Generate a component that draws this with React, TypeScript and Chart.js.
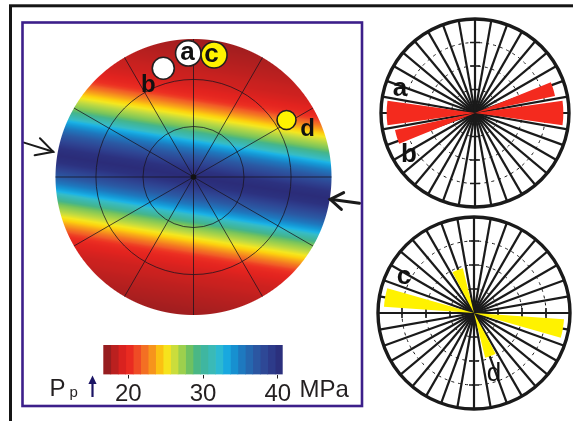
import React, { useEffect, useRef } from 'react';
import { Chart, registerables } from 'chart.js';

Chart.register(...registerables);

const FONT = "'Liberation Sans', Arial, Helvetica, sans-serif";

// ---------- Left panel: pore-pressure field on an equal-area net ----------
const bandTrend = 99; // trend of the high-Pp band (deg clockwise from N)
// Pp across the band, distance from the band axis in % of net radius
const profileDistance = [0, 5, 10, 15, 20, 25, 30, 35, 40, 45, 50, 55, 60, 65, 70, 80, 90, 100, 120, 145];
const profilePressure = [40.5, 40.0, 38.5, 37.0, 35.2, 33.0, 30.5, 28.0, 26.5, 24.8, 23.0, 21.0, 19.8, 19.2, 18.7, 18.2, 17.8, 17.4, 17.2, 17.0];

const netRings = [0.366, 0.707];
const netDiameters = [0, 30, 60, 90, 120, 150];

// fault plane poles
const poleNames = ['a', 'b', 'c', 'd'];
const poleX = [-0.038, -0.219, 0.149, 0.674];
const poleY = [0.896, 0.788, 0.884, 0.413];
const poleTextX = [-0.043, -0.328, 0.130, 0.826];
const poleTextY = [0.899, 0.667, 0.884, 0.346];
const poleRadius = [12.7, 11, 13, 9.5];
const poleColor = ['#ffffff', '#ffffff', '#fff200', '#fff200'];
const poleTextInside = [true, false, true, false];

// max stress arrows (tail -> tip) in net units
const arrowTailX = [-1.228, 1.203];
const arrowTailY = [0.249, -0.191];
const arrowTipX = [-1.016, 0.991];
const arrowTipY = [0.183, -0.162];

// colour map (MPa)
const cmapPressure = [16.7, 17.5, 18.5, 19.5, 20.5, 21.5, 22.5, 23.5, 24.5, 25.3, 26.2, 27.2, 28.2, 29.3, 30.5, 31.8, 32.7, 33.8, 35.2, 36.8, 38.3, 39.5, 40.7];
const cmapColors = ['#8a1c1e', '#a21e1f', '#c9211f', '#e2231f', '#ec2f22', '#f15a27', '#f47a21', '#f8a21a', '#fdd10e', '#f4e720', '#c8dc3e', '#9acf4e', '#6cc062', '#45b58b', '#3db7a8', '#36bcc6', '#1bb3e6', '#1598d6', '#1e78be', '#2a5ba5', '#2e4694', '#2d3786', '#2a2a76'];

const colorbarEdges = [16.65, 17.65, 18.65, 19.65, 20.65, 21.65, 22.65, 23.65, 24.65, 25.65, 26.65, 27.65, 28.65, 29.65, 30.65, 31.65, 32.65, 33.65, 34.65, 35.65, 36.65, 37.65, 38.65, 39.65, 40.65];
const colorbarTicks = [20, 30, 40];

// ---------- Rose diagrams ----------
const roseSectors = ['0', '10', '20', '30', '40', '50', '60', '70', '80', '90', '100', '110', '120', '130', '140', '150', '160', '170', '180', '190', '200', '210', '220', '230', '240', '250', '260', '270', '280', '290', '300', '310', '320', '330', '340', '350'];
const roseRings = [25, 50, 75];

const roseABEdges = [0, 68, 78, 82, 98, 248, 258, 262, 278, 360];
const roseABLength = [0, 87, 0, 94, 0, 87, 0, 94, 0];
const roseABText = ['a', 'b'];
const roseABTextAz = [288, 238];
const roseABTextR = [84, 83];

const roseCDEdges = [0, 94, 106, 152, 166, 274, 286, 332, 346, 360];
const roseCDLength = [0, 94, 0, 48, 0, 94, 0, 48, 0];
const roseCDText = ['c', 'd'];
const roseCDTextAz = [297, 162];
const roseCDTextR = [82, 67];

function hexToRgb(h: string) {
  const n = parseInt(h.slice(1), 16);
  return [(n >> 16) & 255, (n >> 8) & 255, n & 255];
}
const cmapRgb = cmapColors.map(hexToRgb);

function pressureRgb(p: number) {
  const n = cmapPressure.length;
  if (p <= cmapPressure[0]) return cmapRgb[0];
  if (p >= cmapPressure[n - 1]) return cmapRgb[n - 1];
  let k = 0;
  while (k < n - 2 && p > cmapPressure[k + 1]) k++;
  const t = (p - cmapPressure[k]) / (cmapPressure[k + 1] - cmapPressure[k]);
  const a = cmapRgb[k], b = cmapRgb[k + 1];
  return [a[0] + (b[0] - a[0]) * t, a[1] + (b[1] - a[1]) * t, a[2] + (b[2] - a[2]) * t];
}
function rgbStr(c: number[]) {
  return `rgb(${Math.round(c[0])},${Math.round(c[1])},${Math.round(c[2])})`;
}
function interp(xs: number[], ys: number[], x: number) {
  if (x <= xs[0]) return ys[0];
  for (let i = 0; i < xs.length - 1; i++) {
    if (x <= xs[i + 1]) {
      const t = (x - xs[i]) / (xs[i + 1] - xs[i]);
      return ys[i] + (ys[i + 1] - ys[i]) * t;
    }
  }
  return ys[ys.length - 1];
}

const fieldPlugin = {
  id: 'ppField',
  beforeDatasetsDraw(chart: any) {
    const { ctx, chartArea } = chart;
    const xs = chart.scales.x, ys = chart.scales.y;
    const x0 = Math.floor(chartArea.left) - 1, y0 = Math.floor(chartArea.top) - 1;
    const w = Math.ceil(chartArea.right) + 1 - x0, h = Math.ceil(chartArea.bottom) + 1 - y0;
    const off = document.createElement('canvas');
    off.width = w; off.height = h;
    const octx = off.getContext('2d')!;
    const img = octx.createImageData(w, h);
    const rPx = xs.getPixelForValue(1) - xs.getPixelForValue(0);
    const az = (bandTrend * Math.PI) / 180;
    const ux = Math.sin(az), uy = Math.cos(az);
    for (let j = 0; j < h; j++) {
      for (let i = 0; i < w; i++) {
        const vx = xs.getValueForPixel(x0 + i + 0.5);
        const vy = ys.getValueForPixel(y0 + j + 0.5);
        const rr = Math.sqrt(vx * vx + vy * vy);
        const edge = (1 - rr) * rPx + 0.5;
        if (edge <= 0) continue;
        const d = Math.abs(vx * uy - vy * ux) * 100;
        const p = interp(profileDistance, profilePressure, d);
        const c = pressureRgb(p);
        const o = (j * w + i) * 4;
        img.data[o] = c[0]; img.data[o + 1] = c[1]; img.data[o + 2] = c[2];
        img.data[o + 3] = Math.round(255 * Math.min(1, edge));
      }
    }
    octx.putImageData(img, 0, 0);
    ctx.save();
    ctx.drawImage(off, x0, y0);
    const cx = xs.getPixelForValue(0), cy = ys.getPixelForValue(0);
    ctx.strokeStyle = 'rgba(25,20,30,0.85)';
    ctx.lineWidth = 0.9;
    netRings.forEach((r) => {
      ctx.beginPath();
      ctx.arc(cx, cy, r * rPx, 0, Math.PI * 2);
      ctx.stroke();
    });
    netDiameters.forEach((a) => {
      const t = (a * Math.PI) / 180;
      ctx.beginPath();
      ctx.moveTo(xs.getPixelForValue(Math.sin(t)), ys.getPixelForValue(Math.cos(t)));
      ctx.lineTo(xs.getPixelForValue(-Math.sin(t)), ys.getPixelForValue(-Math.cos(t)));
      ctx.stroke();
    });
    ctx.fillStyle = '#111';
    ctx.beginPath();
    ctx.arc(cx, cy, 2.8, 0, Math.PI * 2);
    ctx.fill();
    // stress arrows
    ctx.strokeStyle = '#1a1a1a';
    ctx.lineCap = 'round';
    arrowTailX.forEach((_, k) => {
      const tx = xs.getPixelForValue(arrowTailX[k]), ty = ys.getPixelForValue(arrowTailY[k]);
      const px = xs.getPixelForValue(arrowTipX[k]), py = ys.getPixelForValue(arrowTipY[k]);
      ctx.lineWidth = k === 0 ? 2 : 3;
      ctx.beginPath();
      ctx.moveTo(tx, ty); ctx.lineTo(px, py); ctx.stroke();
      const back = Math.atan2(ty - py, tx - px);
      const spread = k === 0 ? 0.49 : 0.6;
      const len = k === 0 ? 19 : 15;
      ctx.beginPath();
      ctx.moveTo(px + len * Math.cos(back - spread), py + len * Math.sin(back - spread));
      ctx.lineTo(px, py);
      ctx.lineTo(px + len * Math.cos(back + spread), py + len * Math.sin(back + spread));
      ctx.stroke();
    });
    ctx.restore();
  },
  afterDatasetsDraw(chart: any) {
    const { ctx } = chart;
    const xs = chart.scales.x, ys = chart.scales.y;
    ctx.save();
    ctx.fillStyle = '#111';
    ctx.textAlign = 'center';
    ctx.textBaseline = 'middle';
    poleNames.forEach((n, k) => {
      ctx.font = `bold ${poleTextInside[k] ? 26 : 24}px ${FONT}`;
      ctx.fillText(n, xs.getPixelForValue(poleTextX[k]), ys.getPixelForValue(poleTextY[k]));
    });
    ctx.restore();
  },
  afterDraw(chart: any) {
    const { ctx } = chart;
    ctx.save();
    // outer black frame
    ctx.strokeStyle = '#151515';
    ctx.lineWidth = 3;
    ctx.strokeRect(10.5, 5.8, 600, 460);
    // purple panel frame
    ctx.strokeStyle = '#3c1f8a';
    ctx.lineWidth = 2.6;
    ctx.strokeRect(22.5, 22.5, 339.5, 383.5);
    // colour-bar caption
    ctx.fillStyle = '#231f20';
    ctx.textBaseline = 'alphabetic';
    ctx.textAlign = 'left';
    ctx.font = `24px ${FONT}`;
    ctx.fillText('P', 49.5, 396);
    ctx.font = `15px ${FONT}`;
    ctx.fillText('p', 69.5, 397);
    ctx.font = `24px ${FONT}`;
    ctx.fillText('MPa', 299.5, 396.5);
    // navy arrow
    ctx.strokeStyle = '#1b1464';
    ctx.fillStyle = '#1b1464';
    ctx.lineWidth = 2.2;
    ctx.beginPath();
    ctx.moveTo(92.5, 397); ctx.lineTo(92.5, 382); ctx.stroke();
    ctx.beginPath();
    ctx.moveTo(92.5, 375.5); ctx.lineTo(96.6, 384); ctx.lineTo(88.4, 384); ctx.closePath(); ctx.fill();
    ctx.restore();
  },
};

function roseDecor(texts: string[], az: number[], rr: number[], bold: boolean[]) {
  return {
    id: 'roseDecor',
    beforeDatasetsDraw(chart: any) {
      const s = chart.scales.r;
      const { ctx } = chart;
      ctx.save();
      ctx.strokeStyle = '#1a1a1a';
      ctx.lineWidth = 1.6;
      roseRings.forEach((v) => {
        const r = s.getDistanceFromCenterForValue(v);
        const half = 5;
        [-1, 1].forEach((sg) => {
          ctx.beginPath();
          ctx.moveTo(s.xCenter - half, s.yCenter + sg * r);
          ctx.lineTo(s.xCenter + half, s.yCenter + sg * r);
          ctx.moveTo(s.xCenter + sg * r, s.yCenter - half);
          ctx.lineTo(s.xCenter + sg * r, s.yCenter + half);
          ctx.stroke();
        });
      });
      ctx.restore();
    },
    afterDatasetsDraw(chart: any) {
      const s = chart.scales.r;
      const { ctx } = chart;
      ctx.save();
      ctx.fillStyle = '#111';
      ctx.textAlign = 'center';
      ctx.textBaseline = 'middle';
      texts.forEach((t, k) => {
        const a = (az[k] * Math.PI) / 180;
        const d = s.getDistanceFromCenterForValue(rr[k]);
        ctx.font = `${bold[k] ? 'bold ' : ''}26px ${FONT}`;
        ctx.fillText(t, s.xCenter + d * Math.sin(a), s.yCenter - d * Math.cos(a));
      });
      ctx.restore();
    },
  };
}

function roseConfig(edges: number[], lengths: number[], color: string, decor: any) {
  return {
    type: 'polarArea',
    data: {
      labels: roseSectors,
      datasets: [
        {
          data: lengths,
          backgroundColor: color,
          borderWidth: 0,
          angle: (c: any) => edges[c.dataIndex + 1] - edges[c.dataIndex],
        },
      ],
    },
    options: {
      responsive: false,
      animation: false,
      events: [],
      layout: { padding: 5 },
      plugins: { legend: { display: false }, tooltip: { enabled: false } },
      scales: {
        r: {
          min: 0,
          max: 100,
          startAngle: 0,
          ticks: { display: false, stepSize: 25 },
          pointLabels: { display: false },
          angleLines: { display: true, color: '#1a1a1a', lineWidth: 2.2 },
          grid: {
            circular: true,
            color: '#1a1a1a',
            lineWidth: (c: any) => (c.tick && c.tick.value === 100 ? 3.4 : 1),
          },
          border: { dash: (c: any) => (c.tick && c.tick.value === 100 ? [] : [3, 4]) },
        },
      },
    },
    plugins: [decor],
  } as any;
}

export default function App() {
  const leftRef = useRef<HTMLCanvasElement>(null);
  const barRef = useRef<HTMLCanvasElement>(null);
  const roseABRef = useRef<HTMLCanvasElement>(null);
  const roseCDRef = useRef<HTMLCanvasElement>(null);

  useEffect(() => {
    const charts: Chart[] = [];

    charts.push(
      new Chart(leftRef.current!, {
        type: 'scatter',
        data: {
          datasets: [
            {
              data: poleX.map((x, i) => ({ x, y: poleY[i] })),
              pointRadius: poleRadius,
              pointHoverRadius: poleRadius,
              backgroundColor: poleColor,
              borderColor: '#231f20',
              borderWidth: 1.6,
              clip: false,
            } as any,
          ],
        },
        options: {
          responsive: false,
          animation: false,
          events: [],
          layout: { padding: { left: 55.5, top: 39, right: 241.5, bottom: 106 } },
          scales: {
            x: { type: 'linear', min: -1, max: 1, display: false },
            y: { type: 'linear', min: -1, max: 1, display: false },
          },
          plugins: { legend: { display: false }, tooltip: { enabled: false } },
        },
        plugins: [fieldPlugin],
      } as any)
    );

    charts.push(
      new Chart(barRef.current!, {
        type: 'bar',
        data: {
          labels: ['Pp'],
          datasets: colorbarEdges.slice(0, -1).map((lo, i) => ({
            data: [[lo, colorbarEdges[i + 1]]],
            backgroundColor: rgbStr(pressureRgb((lo + colorbarEdges[i + 1]) / 2)),
            borderWidth: 0,
            grouped: false,
            barPercentage: 1,
            categoryPercentage: 1,
          })),
        },
        options: {
          indexAxis: 'y',
          responsive: false,
          animation: false,
          events: [],
          layout: { padding: { left: 43.3, right: 97.3, top: 10, bottom: 11 } },
          plugins: { legend: { display: false }, tooltip: { enabled: false } },
          scales: {
            x: {
              type: 'linear',
              min: colorbarEdges[0],
              max: colorbarEdges[colorbarEdges.length - 1],
              afterBuildTicks: (s: any) => {
                s.ticks = colorbarTicks.map((v) => ({ value: v }));
              },
              ticks: {
                font: { family: FONT, size: 24 },
                color: '#231f20',
                padding: 1,
                maxRotation: 0,
                autoSkip: false,
                callback: (v: any) => String(v),
              },
              grid: { drawOnChartArea: false, drawTicks: true, tickLength: 4, color: '#231f20', lineWidth: 1 },
              border: { display: false },
            },
            y: { display: false },
          },
        },
      } as any)
    );

    charts.push(
      new Chart(
        roseABRef.current!,
        roseConfig(roseABEdges, roseABLength, '#f42a1e', roseDecor(roseABText, roseABTextAz, roseABTextR, [true, true]))
      )
    );
    charts.push(
      new Chart(
        roseCDRef.current!,
        roseConfig(roseCDEdges, roseCDLength, '#fff200', roseDecor(roseCDText, roseCDTextAz, roseCDTextR, [true, false]))
      )
    );

    return () => charts.forEach((c) => c.destroy());
  }, []);

  const abs = (l: number, t: number, w: number, h: number): React.CSSProperties => ({
    position: 'absolute',
    left: l,
    top: t,
    width: w,
    height: h,
  });

  return (
    <div style={{ position: 'fixed', left: 0, top: 0, width: 573, height: 421, background: '#fff', overflow: 'hidden' }}>
      <canvas ref={leftRef} width={573} height={421} style={abs(0, 0, 573, 421)} />
      <canvas ref={barRef} width={320} height={80} style={abs(60, 335, 320, 80)} />
      <canvas ref={roseABRef} width={198} height={198} style={abs(376, 14, 198, 198)} />
      <canvas ref={roseCDRef} width={202} height={202} style={abs(373, 212, 202, 202)} />
    </div>
  );
}
